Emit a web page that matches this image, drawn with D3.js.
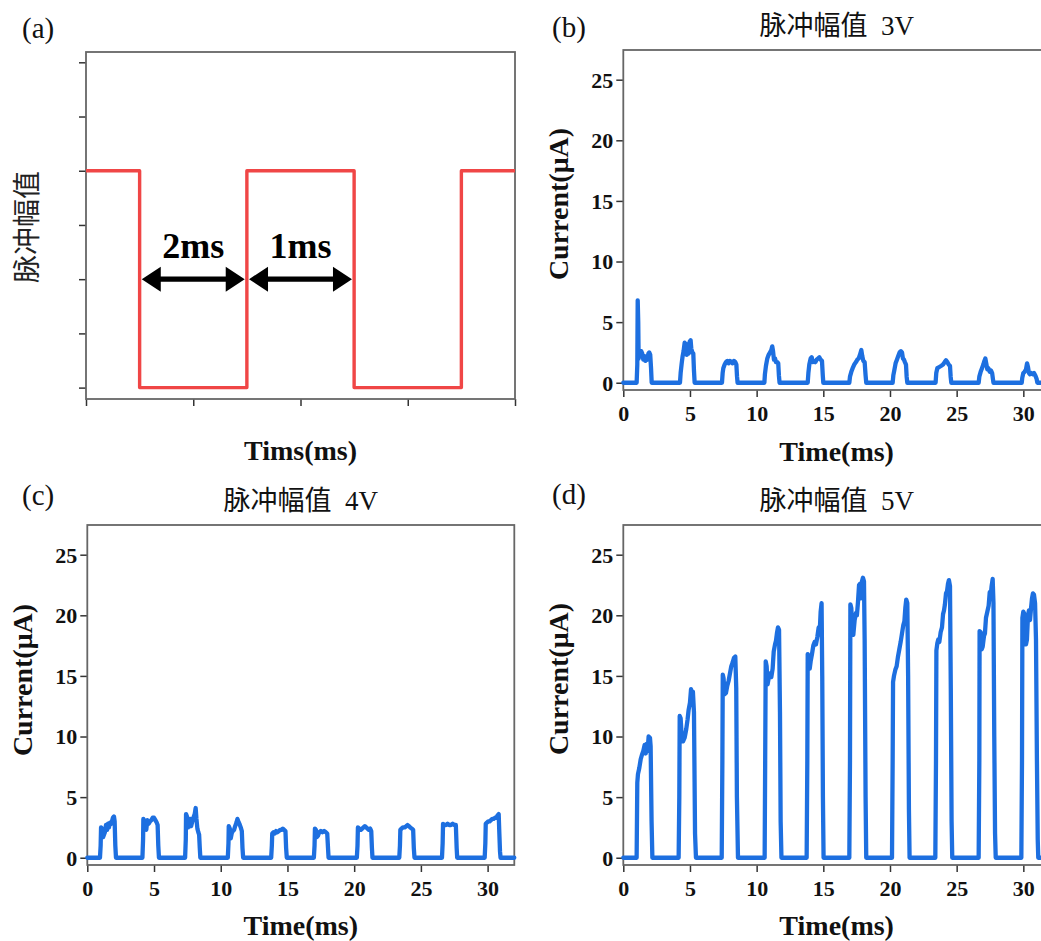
<!DOCTYPE html>
<html>
<head>
<meta charset="utf-8">
<script src="https://cdn.jsdelivr.net/npm/d3@7/dist/d3.min.js"></script>
<style>
  html, body { margin: 0; padding: 0; background: #fff; }
  svg { display: block; }
</style>
</head>
<body>
<script>
// ---------------- DATA ----------------
// Panel (a): schematic pulse train (time units, level units)
const pulseTime  = [0, 0.5, 0.5, 1.5, 1.5, 2.5, 2.5, 3.5, 3.5, 4];
const pulseLevel = [4, 4,   0,   0,   4,   4,   0,   0,   4,   4];
const pulseXTicks = [0, 1, 2, 3, 4];
const pulseYTicks = [0, 1, 2, 3, 4, 5, 6];
const arrowSpans = [[0.52, 1.48], [1.52, 2.48]];
const arrowLabels = ["2ms", "1ms"];

// Panels (b)-(d): measured current traces, [time (ms), current (μA)]
const trace3V = [
  [0,0],[1.0,0],[1.05,1.5],[1.08,6.8],[1.12,5.0],[1.15,2.0],[1.2,2.5],[1.28,2.2],[1.35,2.6],[1.42,2.4],[1.5,1.9],[1.58,2.2],[1.65,1.8],[1.72,2.0],[1.8,1.9],[1.88,2.4],[1.95,2.5],[2.02,2.3],[2.08,1.2],[2.13,0],
  [4.25,0],[4.3,0.8],[4.38,1.6],[4.45,2.2],[4.52,2.6],[4.6,3.3],[4.65,2.8],[4.7,3.2],[4.76,2.3],[4.82,2.6],[4.9,2.4],[4.98,3.4],[5.05,3.5],[5.1,2.8],[5.18,2.5],[5.25,2.4],[5.3,1.0],[5.35,0],
  [7.4,0],[7.45,0.8],[7.5,1.2],[7.6,1.5],[7.7,1.7],[7.8,1.8],[7.9,1.6],[8.0,1.8],[8.1,1.7],[8.2,1.6],[8.3,1.8],[8.4,1.7],[8.48,1.5],[8.53,0.5],[8.57,0],
  [10.58,0],[10.62,0.7],[10.7,1.4],[10.8,2.0],[10.9,2.3],[11.0,2.5],[11.1,2.7],[11.17,3.0],[11.23,2.6],[11.3,1.9],[11.38,2.0],[11.45,1.7],[11.55,1.7],[11.62,1.6],[11.67,0.6],[11.72,0],
  [13.83,0],[13.88,0.8],[13.95,1.5],[14.05,2.0],[14.13,2.1],[14.2,1.7],[14.3,1.8],[14.4,1.7],[14.5,1.9],[14.6,2.0],[14.7,2.1],[14.8,1.9],[14.9,1.8],[14.96,0.6],[15.0,0],
  [16.95,0],[17.0,0.5],[17.1,0.9],[17.2,1.2],[17.32,1.5],[17.45,1.7],[17.55,1.9],[17.65,2.0],[17.75,2.3],[17.85,2.7],[17.92,2.2],[18.0,1.8],[18.1,1.7],[18.17,0.6],[18.22,0],
  [20.2,0],[20.25,0.6],[20.32,1.0],[20.42,1.6],[20.52,1.9],[20.62,2.2],[20.72,2.5],[20.82,2.6],[20.9,2.5],[20.97,2.0],[21.05,1.9],[21.12,1.7],[21.2,1.5],[21.25,0.5],[21.3,0],
  [23.42,0],[23.47,0.8],[23.55,1.2],[23.7,1.3],[23.85,1.4],[23.98,1.5],[24.1,1.7],[24.2,1.85],[24.3,1.7],[24.4,1.5],[24.5,1.4],[24.55,0.5],[24.6,0],
  [26.65,0],[26.7,0.5],[26.8,0.9],[26.9,1.2],[27.0,1.5],[27.08,1.8],[27.15,2.0],[27.22,1.6],[27.3,1.1],[27.38,1.2],[27.48,0.9],[27.58,1.0],[27.66,0.8],[27.72,0.3],[27.76,0],
  [29.88,0],[29.92,0.4],[30.0,0.8],[30.1,0.9],[30.2,1.1],[30.28,1.6],[30.35,1.3],[30.42,0.8],[30.5,0.7],[30.6,0.8],[30.7,0.7],[30.8,0.8],[30.9,0.6],[31.0,0.3],[31.05,0],[32,0]
];

const trace4V = [
  [0,0],[0.95,0],[1.0,1.0],[1.03,2.5],[1.1,2.4],[1.18,1.7],[1.25,1.9],[1.32,2.1],[1.4,2.7],[1.48,2.3],[1.55,2.8],[1.62,2.5],[1.7,2.9],[1.78,2.8],[1.85,3.0],[1.92,3.3],[2.0,3.4],[2.05,3.0],[2.1,1.0],[2.15,0],
  [4.13,0],[4.18,1.5],[4.2,3.2],[4.28,3.0],[4.35,2.9],[4.42,2.3],[4.5,3.1],[4.6,2.8],[4.7,3.0],[4.8,3.1],[4.9,3.3],[5.0,3.3],[5.1,3.1],[5.2,2.9],[5.27,2.7],[5.32,1.0],[5.37,0],
  [7.33,0],[7.38,1.5],[7.4,3.6],[7.47,3.4],[7.55,2.5],[7.62,2.8],[7.7,3.2],[7.78,2.6],[7.85,2.9],[7.95,3.3],[8.05,3.6],[8.12,4.1],[8.18,3.2],[8.25,2.4],[8.32,2.1],[8.38,1.9],[8.43,0.8],[8.47,0],
  [10.53,0],[10.58,1.2],[10.6,2.6],[10.68,2.4],[10.75,1.6],[10.82,2.0],[10.9,2.2],[11.0,2.3],[11.08,2.6],[11.18,2.9],[11.25,3.2],[11.32,3.0],[11.4,2.8],[11.5,2.5],[11.58,2.2],[11.63,0.8],[11.68,0],
  [13.78,0],[13.83,1.0],[13.86,2.0],[13.95,2.1],[14.05,2.0],[14.15,2.2],[14.25,2.1],[14.35,2.2],[14.45,2.3],[14.55,2.3],[14.65,2.4],[14.75,2.3],[14.85,2.2],[14.9,0.8],[14.95,0],
  [16.98,0],[17.03,1.0],[17.06,2.4],[17.13,2.3],[17.2,1.7],[17.28,1.8],[17.38,2.1],[17.5,2.2],[17.62,2.1],[17.75,2.2],[17.88,2.1],[17.98,2.0],[18.04,0.8],[18.08,0],
  [20.2,0],[20.25,1.0],[20.28,2.5],[20.38,2.4],[20.5,2.3],[20.6,2.4],[20.7,2.5],[20.8,2.6],[20.9,2.5],[21.0,2.4],[21.1,2.3],[21.2,2.4],[21.28,2.2],[21.33,0.8],[21.37,0],
  [23.38,0],[23.43,1.0],[23.46,2.3],[23.55,2.4],[23.65,2.5],[23.78,2.5],[23.9,2.6],[24.0,2.7],[24.1,2.6],[24.2,2.5],[24.32,2.4],[24.42,2.3],[24.47,0.8],[24.52,0],
  [26.58,0],[26.63,1.2],[26.66,2.8],[26.75,2.7],[26.88,2.7],[27.0,2.8],[27.12,2.7],[27.25,2.7],[27.38,2.8],[27.5,2.7],[27.62,2.7],[27.68,0.8],[27.72,0],
  [29.78,0],[29.83,1.2],[29.86,2.8],[29.95,2.9],[30.05,3.0],[30.15,3.0],[30.25,3.1],[30.35,3.2],[30.45,3.2],[30.55,3.3],[30.65,3.3],[30.75,3.5],[30.83,3.6],[30.88,2.0],[30.93,0.5],[30.97,0],[32,0]
];

const trace5V = [
  [0,0],[1.0,0],[1.05,6.2],[1.1,6.9],[1.2,7.4],[1.3,8.1],[1.4,8.5],[1.5,8.8],[1.6,9.3],[1.68,8.6],[1.75,9.4],[1.82,8.8],[1.9,10.0],[2.0,9.9],[2.05,9.2],[2.12,3.0],[2.18,0],
  [4.15,0],[4.2,5.0],[4.23,11.7],[4.3,11.5],[4.38,10.0],[4.48,9.6],[4.6,9.9],[4.72,10.6],[4.82,11.4],[4.9,12.2],[5.0,12.8],[5.08,13.9],[5.15,13.6],[5.22,13.7],[5.3,12.0],[5.38,2.0],[5.45,0],
  [7.38,0],[7.43,8.0],[7.46,15.1],[7.52,14.8],[7.6,13.5],[7.7,13.6],[7.8,14.2],[7.9,14.6],[8.0,15.2],[8.1,15.8],[8.2,16.1],[8.3,16.5],[8.4,16.6],[8.47,14.0],[8.52,5.0],[8.6,0],
  [10.6,0],[10.64,8.0],[10.68,16.2],[10.75,15.8],[10.82,14.3],[10.9,14.8],[11.0,15.2],[11.1,14.9],[11.2,15.6],[11.28,17.0],[11.38,17.6],[11.45,17.9],[11.52,18.5],[11.6,19.0],[11.68,18.8],[11.75,12.0],[11.8,3.0],[11.86,0],
  [13.75,0],[13.8,8.0],[13.83,16.8],[13.9,16.6],[13.98,15.6],[14.05,16.2],[14.15,16.8],[14.25,17.5],[14.35,17.8],[14.45,17.6],[14.55,18.2],[14.65,19.0],[14.72,18.4],[14.8,20.3],[14.87,21.0],[14.92,15.0],[14.97,5.0],[15.02,0],
  [16.95,0],[17.0,8.0],[17.03,20.9],[17.1,20.6],[17.18,18.5],[17.25,18.4],[17.35,19.6],[17.45,20.2],[17.52,20.0],[17.6,21.1],[17.68,22.5],[17.75,22.6],[17.82,21.4],[17.9,22.8],[17.97,23.1],[18.05,22.8],[18.1,18.0],[18.17,5.0],[18.22,0],
  [20.15,0],[20.2,8.0],[20.23,14.5],[20.3,15.0],[20.4,15.5],[20.5,15.8],[20.6,16.6],[20.7,17.2],[20.8,17.8],[20.9,18.5],[21.0,19.2],[21.08,19.5],[21.15,20.6],[21.22,21.3],[21.3,21.0],[21.36,15.0],[21.42,4.0],[21.47,0],
  [23.4,0],[23.45,8.0],[23.48,17.1],[23.55,17.7],[23.62,18.0],[23.7,17.8],[23.8,18.6],[23.9,19.0],[23.98,20.1],[24.05,20.4],[24.12,20.9],[24.2,21.8],[24.28,22.0],[24.35,22.6],[24.42,22.9],[24.5,22.4],[24.56,14.0],[24.62,3.0],[24.67,0],
  [26.65,0],[26.7,8.0],[26.72,18.7],[26.8,18.6],[26.88,17.2],[26.95,17.4],[27.05,18.3],[27.12,18.5],[27.2,19.8],[27.3,20.3],[27.4,20.8],[27.48,21.9],[27.55,21.6],[27.62,22.4],[27.7,23.0],[27.76,21.0],[27.82,10.0],[27.88,2.0],[27.93,0],
  [29.85,0],[29.9,8.0],[29.93,19.8],[30.0,20.3],[30.08,20.1],[30.15,18.2],[30.2,17.6],[30.27,18.0],[30.35,20.0],[30.42,20.4],[30.5,19.6],[30.58,20.6],[30.65,21.4],[30.72,21.8],[30.8,21.7],[30.88,21.0],[30.95,18.0],[31.02,8.0],[31.08,1.5],[31.12,0],[32,0]
];

const timeTicks = [0, 5, 10, 15, 20, 25, 30];
const currentTicks = [0, 5, 10, 15, 20, 25];
const timeDomain = [0, 32];
const currentDomain = [-0.6, 27.45];

const panelLetters = ["(a)", "(b)", "(c)", "(d)"];
const panelTitles = ["", "脉冲幅值  3V", "脉冲幅值  4V", "脉冲幅值  5V"];
const pulseYLabel = "脉冲幅值";
const pulseXLabel = "Tims(ms)";
const timeLabel = "Time(ms)";
const currentLabel = "Current(μA)";

// ---------------- LAYOUT / STYLE ----------------
const W = 1041, H = 941;
const SERIF = "'Liberation Serif','Times New Roman',serif";
const TITLE_FONT = "'Liberation Serif','Noto Sans CJK SC',serif";
const CJK = "'Noto Sans CJK SC','Noto Sans',sans-serif";
const BLUE = "#1d6fe0";
const RED = "#f04646";
const FRAME = "#666";
const TICK = "#333";

const svg = d3.select("body").append("svg")
  .attr("width", W).attr("height", H)
  .attr("viewBox", `0 0 ${W} ${H}`);
svg.append("rect").attr("width", W).attr("height", H).attr("fill", "#fff");

const boxes = [
  {l: 86,    t: 52,  r: 515,  b: 399},
  {l: 623.3, t: 50,  r: 1050, b: 390},
  {l: 87.3,  t: 525, r: 514.3, b: 865},
  {l: 623.3, t: 525, r: 1050, b: 865}
];
const letterPos = [[22, 38], [552, 37], [22, 505], [552, 504]];

function frame(g, bx) {
  g.append("rect")
    .attr("x", bx.l).attr("y", bx.t)
    .attr("width", bx.r - bx.l).attr("height", bx.b - bx.t)
    .attr("fill", "none").attr("stroke", FRAME).attr("stroke-width", 1.8);
}

function styleAxis(sel, labelSize) {
  sel.select(".domain").remove();
  sel.selectAll(".tick line").attr("stroke", TICK).attr("stroke-width", 1.5);
  sel.selectAll(".tick text")
    .attr("fill", "#111")
    .style("font-family", SERIF)
    .style("font-weight", "bold")
    .style("font-size", labelSize + "px");
}

// Panel letters
panelLetters.forEach((t, i) => {
  svg.append("text").attr("x", letterPos[i][0]).attr("y", letterPos[i][1])
    .text(t).attr("fill", "#111")
    .style("font-family", SERIF).style("font-size", "29px");
});

// ---------------- Panel (a) ----------------
(function () {
  const bx = boxes[0];
  const g = svg.append("g");
  const x = d3.scaleLinear().domain([0, 4]).range([bx.l, bx.r]);
  const y = d3.scaleLinear().domain([-0.21, 6.19]).range([bx.b, bx.t]);

  const ya = g.append("g").attr("transform", `translate(${bx.l},0)`)
    .call(d3.axisLeft(y).tickValues(pulseYTicks).tickSize(7).tickSizeOuter(0).tickFormat(""));
  styleAxis(ya, 20);
  const xa = g.append("g").attr("transform", `translate(0,${bx.b})`)
    .call(d3.axisBottom(x).tickValues(pulseXTicks).tickSize(7).tickSizeOuter(0).tickFormat(""));
  styleAxis(xa, 20);
  frame(g, bx);

  const pts = pulseTime.map((t, i) => [t, pulseLevel[i]]);
  g.append("path").datum(pts)
    .attr("d", d3.line().x(d => x(d[0])).y(d => y(d[1])))
    .attr("fill", "none").attr("stroke", RED).attr("stroke-width", 3.4)
    .attr("stroke-linejoin", "round");

  // double arrows
  const ay = y(2);
  const hl = 19, hh = 12.5, st = 2.6;
  arrowSpans.forEach((s, i) => {
    const x1 = x(s[0]), x2 = x(s[1]);
    const p = d3.path();
    p.moveTo(x1, ay);
    p.lineTo(x1 + hl, ay - hh); p.lineTo(x1 + hl, ay - st);
    p.lineTo(x2 - hl, ay - st); p.lineTo(x2 - hl, ay - hh);
    p.lineTo(x2, ay);
    p.lineTo(x2 - hl, ay + hh); p.lineTo(x2 - hl, ay + st);
    p.lineTo(x1 + hl, ay + st); p.lineTo(x1 + hl, ay + hh);
    p.closePath();
    g.append("path").attr("d", p.toString()).attr("fill", "#000");
    g.append("text").attr("x", (x1 + x2) / 2).attr("y", ay - 21)
      .attr("text-anchor", "middle").text(arrowLabels[i])
      .attr("fill", "#000")
      .style("font-family", SERIF).style("font-weight", "bold").style("font-size", "36px");
  });

  g.append("text").attr("x", (bx.l + bx.r) / 2).attr("y", 460)
    .attr("text-anchor", "middle").text(pulseXLabel).attr("fill", "#111")
    .style("font-family", SERIF).style("font-weight", "bold").style("font-size", "28px");
  g.append("text").attr("transform", `translate(36.5,227) rotate(-90)`)
    .attr("text-anchor", "middle").text(pulseYLabel).attr("fill", "#222")
    .style("font-family", CJK).style("font-size", "28px");
})();

// ---------------- Panels (b)-(d) ----------------
function currentPanel(idx, trace, xLabY, yLab) {
  const bx = boxes[idx];
  const g = svg.append("g");
  const x = d3.scaleLinear().domain(timeDomain).range([bx.l, bx.r]);
  const y = d3.scaleLinear().domain(currentDomain).range([bx.b, bx.t]);

  const ya = g.append("g").attr("transform", `translate(${bx.l},0)`)
    .call(d3.axisLeft(y).tickValues(currentTicks).tickSize(7).tickSizeOuter(0).tickPadding(3));
  styleAxis(ya, 22);
  ya.selectAll(".tick text").attr("dy", "0.34em");
  const xa = g.append("g").attr("transform", `translate(0,${bx.b})`)
    .call(d3.axisBottom(x).tickValues(timeTicks).tickSize(7).tickSizeOuter(0).tickPadding(8));
  styleAxis(xa, 22);
  frame(g, bx);

  g.append("path").datum(trace)
    .attr("d", d3.line().x(d => x(d[0])).y(d => y(d[1])))
    .attr("fill", "none").attr("stroke", BLUE).attr("stroke-width", 4.3)
    .attr("stroke-linejoin", "round").attr("stroke-linecap", "round");

  const cx = (bx.l + bx.r) / 2;
  g.append("text").attr("x", cx).attr("y", bx.t - 15)
    .attr("text-anchor", "middle").attr("fill", "#111")
    .style("white-space", "pre")
    .style("font-family", TITLE_FONT).style("font-size", "27px")
    .text(panelTitles[idx]);
  g.append("text").attr("x", cx).attr("y", xLabY)
    .attr("text-anchor", "middle").text(timeLabel).attr("fill", "#111")
    .style("font-family", SERIF).style("font-weight", "bold").style("font-size", "28px");
  g.append("text").attr("transform", `translate(${yLab[0]},${yLab[1]}) rotate(-90)`)
    .attr("text-anchor", "middle").text(currentLabel).attr("fill", "#111")
    .style("font-family", SERIF).style("font-weight", "bold").style("font-size", "28px");
}

currentPanel(1, trace3V, 461, [568, 204]);
currentPanel(2, trace4V, 935, [32, 680]);
currentPanel(3, trace5V, 935, [568, 679]);
</script>
</body>
</html>
